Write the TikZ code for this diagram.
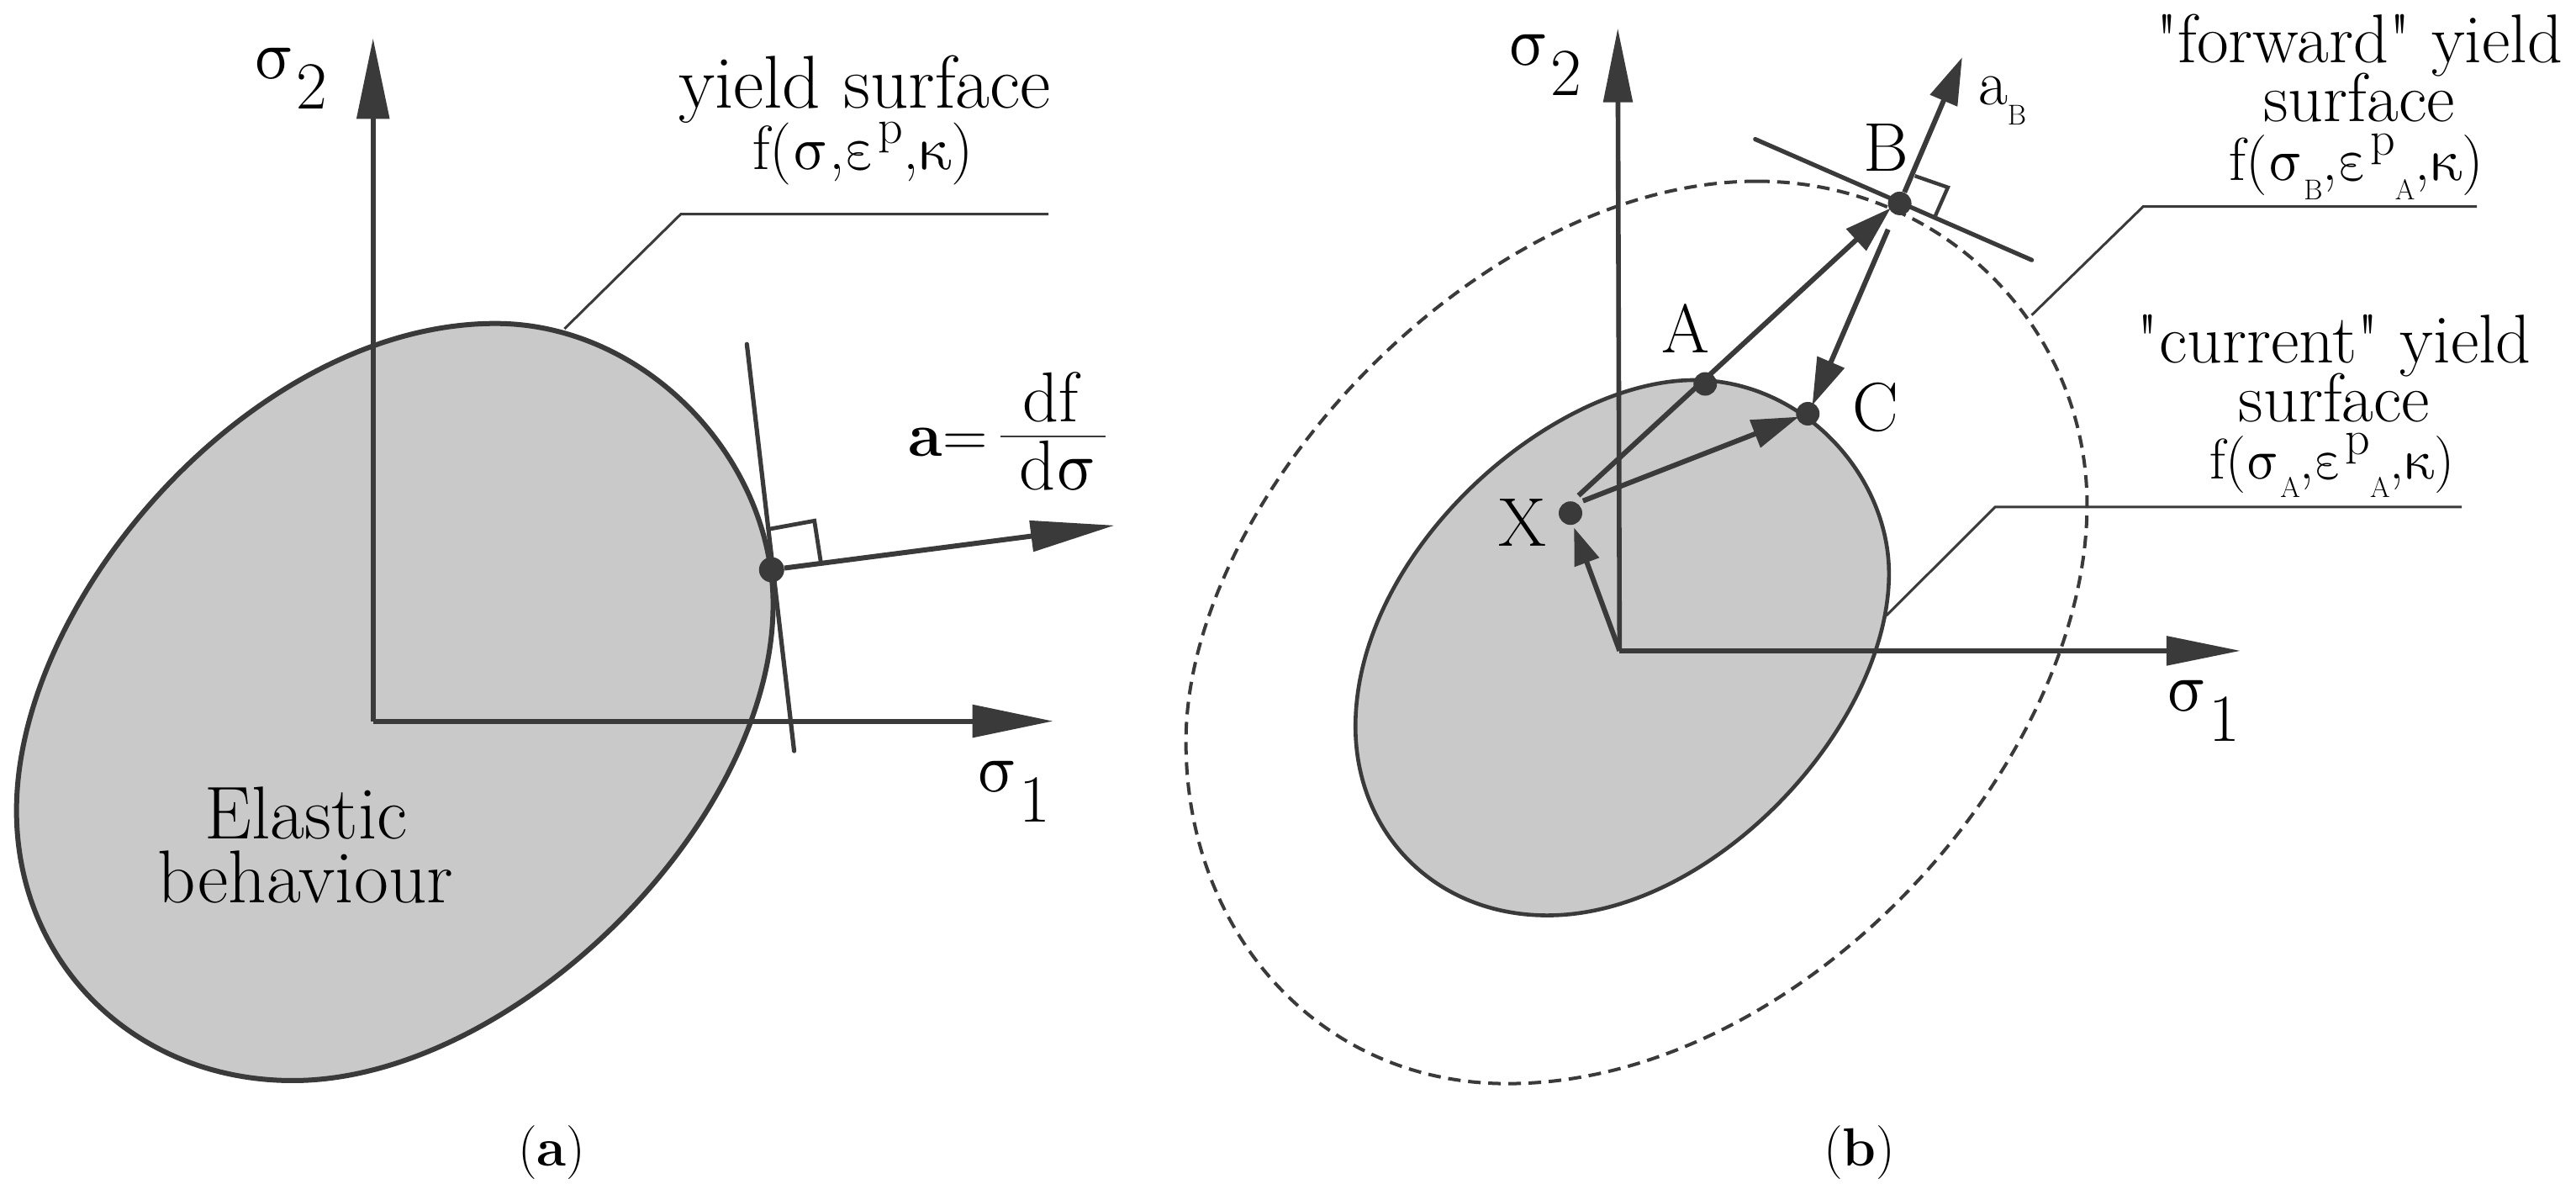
\documentclass[tikz,border=0pt]{standalone}
\usepackage{fontspec}
\usetikzlibrary{arrows.meta}
\newfontfamily\grfont{Latin Modern Math}
\newfontfamily\qfont{Latin Modern Roman}
\newcommand{\sgm}{{\grfont σ}}
\newcommand{\eps}{{\grfont ε}}
\newcommand{\kap}{{\grfont κ}}
\newcommand{\qq}{{\qfont "}}
\newcommand{\fs}[1]{\fontsize{#1}{#1}\selectfont}
\newcommand{\sub}[1]{\raisebox{-.32em}{\fs{17}#1}}
\newcommand{\sups}[1]{\raisebox{.42em}{\fs{29}#1}}
\definecolor{ink}{HTML}{3A3A3A}
\definecolor{fillgray}{HTML}{C9C9C9}
\tikzset{
  lab/.style={anchor=base,inner sep=0pt,outer sep=0pt,text=black,font=\fs{44.5}},
  labb/.style={anchor=base,inner sep=0pt,outer sep=0pt,text=black,font=\fs{41}},
  capt/.style={anchor=base,inner sep=0pt,outer sep=0pt,text=black,font=\fs{32}},
  sigl/.style={anchor=base,inner sep=0pt,outer sep=0pt,text=black,font=\fs{42}},
  thinl/.style={draw=ink,line width=1.5pt},
  med/.style={draw=ink,line width=2.6pt,line cap=round},
  axa/.style={draw=ink,line width=3pt,-{Triangle[length=48pt,width=19pt]}},
  axb/.style={draw=ink,line width=2.8pt,-{Triangle[length=44pt,width=17pt]}},
  arb/.style={draw=ink,line width=3pt,-{Triangle[length=28pt,width=17pt]}},
  dota/.style={circle,fill=ink,inner sep=0pt,minimum size=15pt},
  dotb/.style={circle,fill=ink,inner sep=0pt,minimum size=14pt},
}
\begin{document}
\begin{tikzpicture}
\useasboundingbox (0,0) rectangle (1532pt,-713pt);
\fill[white] (0,0) rectangle (1532pt,-713pt);
% ---------- panel (a)
\begin{scope}[x=0.4464pt,y=-0.4547pt]
\path[draw=ink,line width=3pt,fill=fillgray]
  (660,423) .. controls (860,423) and (1030,600) .. (1030,790)
  .. controls (1030,1080) and (680,1413) .. (390,1413)
  .. controls (180,1413) and (22,1260) .. (22,1060)
  .. controls (22,780) and (340,423) .. (660,423) -- cycle;
\coordinate (aO) at (497,943);
\coordinate (aY) at (497,50);
\coordinate (aX) at (1403,943);
\draw[axa] (aO) -- (aY);
\draw[axa] (aO) -- (aX);
\coordinate (t1) at (995,450);
\coordinate (t2) at (1058,982);
\draw[med] (t1) -- (t2);
\node[dota] (P) at (1028,745) {};
\coordinate (aE) at (1485,687);
\draw[draw=ink,line width=3pt,-{Triangle[length=50pt,width=18pt]}] (P) -- (aE);
\coordinate (r1) at (1024,692);
\coordinate (r2) at (1085,681);
\coordinate (r3) at (1094,738);
\draw[draw=ink,line width=2.4pt] (r1) -- (r2) -- (r3);
\coordinate (l1) at (752,430);
\coordinate (l2) at (907,280);
\coordinate (l3) at (1397,280);
\draw[thinl] (l1) -- (l2) -- (l3);
\node[lab] (ys) at (1152,141) {yield surface};
\node[lab,font=\fs{37}] (yf) at (1150,222) {f(\sgm,\eps\sups{p},\kap)};
\node[lab] (el) at (408,1097) {Elastic};
\node[lab] (be) at (407,1180) {behaviour};
\node[sigl] (s2a) at (387,103) {\sgm\raisebox{-18pt}{\fs{40}2}};
\node[sigl] (s1a) at (1350,1035) {\sgm\raisebox{-18pt}{\fs{40}1}};
\node[lab,font=\fs{37}] (aeq) at (1263,597) {\textbf{a}=};
\node[lab,font=\fs{42}] (df) at (1400,552) {df};
\node[lab,font=\fs{42}] (ds) at (1410,640) {d\sgm};
\coordinate (fb1) at (1333,571);
\coordinate (fb2) at (1473,571);
\draw[draw=ink,line width=0.8pt] (fb1) -- (fb2);
\node[capt] (capa) at (735,1525) {(\textbf{a})};
\end{scope}
% ---------- panel (b)
\begin{scope}[shift={(700pt,0pt)},x=0.5306pt,y=-0.4547pt]
\path[draw=ink,line width=2.3pt,fill=fillgray]
  (580,497) .. controls (700,497) and (798,620) .. (798,750)
  .. controls (798,950) and (600,1197) .. (415,1197)
  .. controls (290,1197) and (200,1090) .. (200,950)
  .. controls (200,720) and (420,497) .. (580,497) -- cycle;
\path[draw=ink,line width=2pt,dash pattern=on 7.5pt off 4.5pt]
  (650,237) .. controls (860,237) and (1020,430) .. (1020,660)
  .. controls (1020,1000) and (700,1417) .. (370,1417)
  .. controls (160,1417) and (10,1220) .. (10,970)
  .. controls (10,650) and (340,237) .. (650,237) -- cycle;
\coordinate (bO) at (496,851);
\coordinate (bY) at (494,37);
\coordinate (bX) at (1192,851);
\draw[axb] (bO) -- (bY);
\draw[axb] (bO) -- (bX);
\coordinate (u1) at (648,182);
\coordinate (u2) at (958,340);
\draw[med] (u1) -- (u2);
\node[dotb] (A) at (592,502) {};
\node[dotb] (B) at (810,266) {};
\node[dotb] (C) at (707,541) {};
\node[dotb] (X) at (441,671) {};
\coordinate (xa) at (450,648);
\coordinate (ba) at (800,272);
\coordinate (xc) at (455,655);
\coordinate (cc) at (697,545);
\coordinate (bc) at (797,300);
\coordinate (cb) at (712,530);
\coordinate (xo) at (445,690);
\coordinate (ab) at (880,75);
\draw[arb] (xa) -- (ba);
\draw[arb] (xc) -- (cc);
\draw[arb] (bc) -- (cb);
\draw[draw=ink,line width=3pt,-{Triangle[length=22pt,width=15pt]}] (bO) -- (xo);
\draw[arb] (B) -- (ab);
\coordinate (q1) at (827,230);
\coordinate (q2) at (864,245);
\coordinate (q3) at (850,282);
\draw[draw=ink,line width=2.2pt] (q1) -- (q2) -- (q3);
\coordinate (m1) at (958,412);
\coordinate (m2) at (1083,270);
\coordinate (m3) at (1457,270);
\draw[thinl] (m1) -- (m2) -- (m3);
\coordinate (n1) at (795,805);
\coordinate (n2) at (917,663);
\coordinate (n3) at (1440,663);
\draw[thinl] (n1) -- (n2) -- (n3);
\node[labb] (fw) at (1325,82) {\qq forward\qq{} yield};
\node[labb] (fs) at (1325,159) {surface};
\node[labb,font=\fs{36}] (ff) at (1322,236) {f(\sgm\sub{B},\eps\sups{p}\sub{A},\kap)};
\node[labb] (cu) at (1297,474) {\qq current\qq{} yield};
\node[labb] (cs) at (1297,552) {surface};
\node[labb,font=\fs{34}] (cf) at (1295,626) {f(\sgm\sub{A},\eps\sups{p}\sub{A},\kap)};
\node[labb] (la) at (570,461) {A};
\node[labb] (lb) at (795,224) {B};
\node[labb] (lc) at (783,563) {C};
\node[labb] (lx) at (387,714) {X};
\node[labb,font=\fs{38}] (lab) at (925,137) {a\sub{B}};
\node[sigl] (s2b) at (412,85) {\sgm\raisebox{-18pt}{\fs{40}2}};
\node[sigl] (s1b) at (1150,930) {\sgm\raisebox{-18pt}{\fs{40}1}};
\node[capt] (capb) at (765,1525) {(\textbf{b})};
\end{scope}
\end{tikzpicture}
\end{document}
